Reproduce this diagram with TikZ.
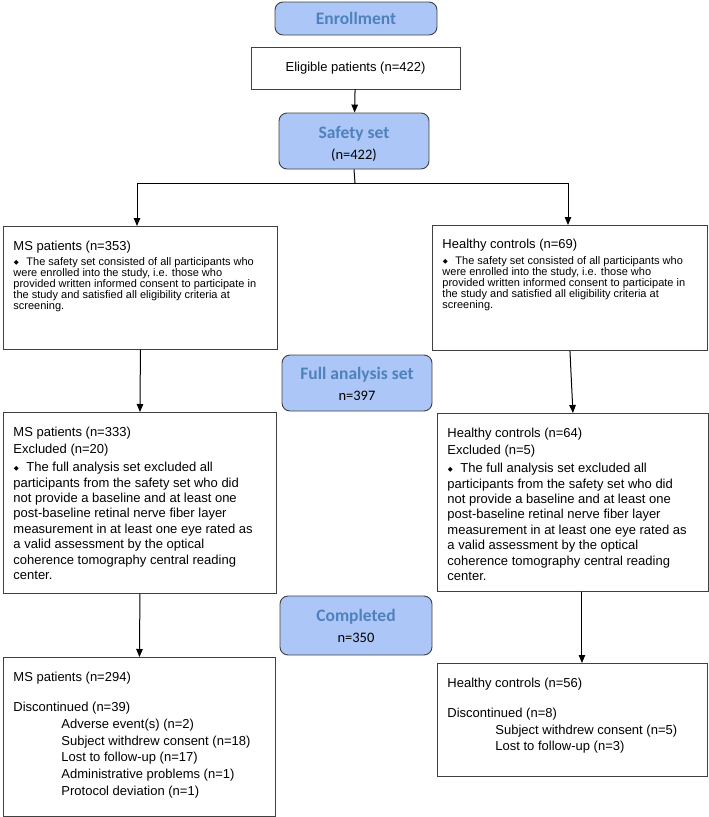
\documentclass[tikz,border=0pt]{standalone}
\usepackage{fontspec}
\setmainfont{Liberation Sans}
\newfontfamily\calib{Carlito}
\newfontfamily\dejavu{DejaVu Sans}
\usetikzlibrary{arrows.meta}

\definecolor{phasefill}{RGB}{172,199,247}
\definecolor{phasetext}{RGB}{79,129,189}
\definecolor{boxline}{RGB}{64,64,64}

% bullet and repeated notes
\newcommand{\dmd}{\makebox[13pt][l]{\hspace{0.5pt}\raisebox{1pt}{\dejavu\fontsize{6.5}{6.5}\selectfont ◆}}}
\newcommand{\phasetitle}[1]{{\fontsize{17.5}{21}\selectfont\bfseries\color{phasetext}#1}}
\newcommand{\safetynote}{%
  \fontsize{11}{11}\selectfont
  \dmd The safety set consisted of all participants who\\
  were enrolled into the study, i.e. those who\\
  provided written informed consent to participate in\\
  the study and satisfied all eligibility criteria at\\
  screening.}
\newcommand{\fasnote}{%
  \dmd The full analysis set excluded all\\
  participants from the safety set who did\\
  not provide a baseline and at least one\\
  post-baseline retinal nerve fiber layer\\
  measurement in at least one eye rated as\\
  a valid assessment by the optical\\
  coherence tomography central reading\\
  center.}

\begin{document}
\begin{tikzpicture}[x=1pt,y=-1pt,
    phase/.style={draw=boxline,fill=phasefill,rounded corners=8pt,line width=0.9pt,
      align=center,font=\calib\fontsize{14.5}{21}\selectfont},
    plain/.style={draw=boxline,line width=0.9pt,anchor=north west,inner xsep=10pt,inner ysep=0pt},
    arr/.style={-{Triangle[length=8pt,width=6.5pt]},line width=1pt}]
    \useasboundingbox (0,0) rectangle (709,817);

    % phases
    \node[phase,minimum width=162pt,minimum height=33pt] (enroll) at (356,18.5) {\phasetitle{Enrollment}};
    \node[plain,anchor=center,minimum width=209pt,minimum height=42pt,font=\fontsize{13}{15}\selectfont] (elig) at (355.5,68) {Eligible patients (n=422)};
    \node[phase,minimum width=150pt,minimum height=56pt] (safety) at (354,141) {\rule{0pt}{19pt}\phasetitle{Safety set}\\(n=422)};
    \node[phase,minimum width=150pt,minimum height=56pt] (fas) at (357,383) {\rule{0pt}{15pt}\phasetitle{Full analysis set}\\n=397};
    \node[phase,minimum width=152pt,minimum height=59pt] (done) at (356,625.5) {\phasetitle{Completed}\\n=350};

    % safety set
    \node[plain] (ms1) at (3,226) {\parbox[t][123pt][t]{254pt}{\raggedright\vspace*{14.2pt}%
      \fontsize{13}{13}\selectfont MS patients (n=353)\\[4.8pt]\safetynote}};
    \node[plain] (hc1) at (432,225) {\parbox[t][125pt][t]{255pt}{\raggedright\vspace*{13.5pt}%
      \fontsize{13}{13}\selectfont Healthy controls (n=69)\\[4.8pt]\safetynote}};

    % full analysis set
    \node[plain] (ms2) at (3,412) {\parbox[t][181pt][t]{253pt}{\raggedright\vspace*{14.2pt}%
      \fontsize{13}{15.4}\selectfont MS patients (n=333)\\[1.6pt]Excluded (n=20)\\[3.2pt]\fasnote}};
    \node[plain] (hc2) at (437,413) {\parbox[t][178pt][t]{251pt}{\raggedright\vspace*{14.2pt}%
      \fontsize{13}{15.4}\selectfont Healthy controls (n=64)\\[1.6pt]Excluded (n=5)\\[3.2pt]\fasnote}};

    % completed
    \node[plain] (ms3) at (3,657) {\parbox[t][159pt][t]{252pt}{\raggedright\vspace*{14.8pt}%
      \fontsize{13}{16.7}\selectfont MS patients (n=294)\\[13.3pt]
      Discontinued (n=39)\\
      \hspace*{48pt}Adverse event(s) (n=2)\\
      \hspace*{48pt}Subject withdrew consent (n=18)\\
      \hspace*{48pt}Lost to follow-up (n=17)\\
      \hspace*{48pt}Administrative problems (n=1)\\
      \hspace*{48pt}Protocol deviation (n=1)}};
    \node[plain] (hc3) at (437,663) {\parbox[t][113pt][t]{250pt}{\raggedright\vspace*{14.5pt}%
      \fontsize{13}{16.7}\selectfont Healthy controls (n=56)\\[13.3pt]
      Discontinued (n=8)\\
      \hspace*{48pt}Subject withdrew consent (n=5)\\
      \hspace*{48pt}Lost to follow-up (n=3)}};

    \coordinate (split) at (355,183);
    \coordinate (lsplit) at (137,183);
    \coordinate (rsplit) at (568,183);
    \coordinate (hcdown) at ([xshift=9pt]hc2.south);

    \draw[arr] (elig) -- (safety);
    \draw[line width=1pt] (safety.south) -- (split);
    \draw[arr] (split) -- (lsplit) -- (lsplit |- ms1.north);
    \draw[arr] (split) -- (rsplit) -- (rsplit |- hc1.north);
    \draw[arr] (ms1.south) -- (ms2.north);
    \draw[arr] (hc1.south) -- (hc2.north);
    \draw[arr] (ms2.south) -- (ms3.north);
    \draw[arr] (hcdown) -- (hcdown |- hc3.north);

\end{tikzpicture}
\end{document}
